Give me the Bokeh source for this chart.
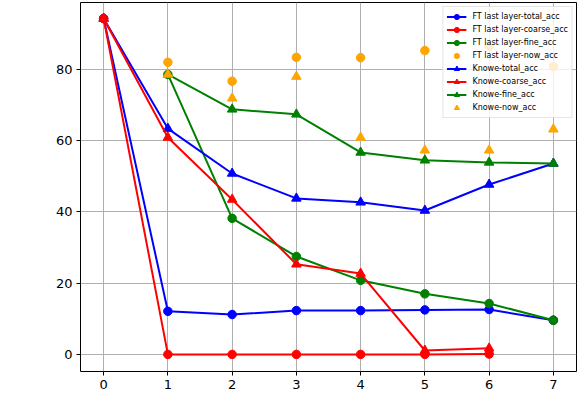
from bokeh.plotting import figure
from bokeh.models import Range1d, FixedTicker, Legend
from bokeh.embed import file_html
from bokeh.resources import INLINE

# ---- data ----
ft_total_x = [0, 1, 2, 3, 4, 5, 6, 7]
ft_total = [94.3, 12.1, 11.2, 12.3, 12.3, 12.5, 12.6, 9.6]
ft_coarse_x = [0, 1, 2, 3, 4, 5, 6]
ft_coarse = [94.3, 0.0, 0.0, 0.0, 0.0, 0.0, 0.1]
ft_fine_x = [1, 2, 3, 4, 5, 6, 7]
ft_fine = [78.6, 38.2, 27.5, 20.8, 17.0, 14.3, 9.6]
ft_now_x = [1, 2, 3, 4, 5, 6, 7]
ft_now = [82.0, 76.7, 83.4, 83.3, 85.3, 86.5, 80.8]

kn_total_x = [0, 1, 2, 3, 4, 5, 6, 7]
kn_total = [94.3, 63.4, 50.8, 43.8, 42.7, 40.4, 47.7, 53.6]
kn_coarse_x = [0, 1, 2, 3, 4, 5, 6]
kn_coarse = [94.3, 60.9, 43.5, 25.3, 22.7, 1.1, 1.7]
kn_fine_x = [1, 2, 3, 4, 5, 6, 7]
kn_fine = [78.6, 68.8, 67.4, 56.7, 54.5, 53.9, 53.6]
kn_now_x = [1, 2, 3, 4, 5, 6, 7]
kn_now = [78.6, 71.9, 78.0, 60.9, 57.3, 57.3, 63.2]

x_ticks = [0, 1, 2, 3, 4, 5, 6, 7]
y_ticks = [0, 20, 40, 60, 80]

BLUE, RED, GREEN, ORANGE = "#0000FF", "#FF0000", "#008000", "#FFA500"

p = figure(width=579, height=393, output_backend="svg", toolbar_location=None,
           x_range=Range1d(-0.36, 7.36), y_range=Range1d(-4.8, 98.8),
           min_border_left=80, min_border_right=3, min_border_top=2, min_border_bottom=22)

p.outline_line_color = "black"
p.outline_line_width = 1
p.background_fill_color = "white"
p.border_fill_color = "white"

for ax in (p.xaxis[0], p.yaxis[0]):
    ax.axis_line_color = None
    ax.major_tick_line_color = "black"
    ax.major_tick_out = 4
    ax.major_tick_in = 0
    ax.minor_tick_line_color = None
    ax.major_label_text_font = "DejaVu Sans"
    ax.major_label_text_font_size = "13px"
    ax.major_label_text_color = "black"
    ax.major_label_standoff = 4
p.xaxis[0].ticker = FixedTicker(ticks=x_ticks)
p.yaxis[0].ticker = FixedTicker(ticks=y_ticks)

p.grid.grid_line_color = "#b0b0b0"
p.grid.grid_line_width = 1

MS = 8.5
TS = 9.5
items = []

def line_series(xs, ys, color, marker, label):
    r1 = p.line(xs, ys, line_color=color, line_width=2)
    r2 = p.scatter(xs, ys, marker=marker, size=MS if marker == "circle" else TS,
                   fill_color=color, line_color=color)
    items.append((label, [r1, r2]))

def point_series(xs, ys, color, marker, label):
    r = p.scatter(xs, ys, marker=marker, size=MS if marker == "circle" else TS,
                  fill_color=color, line_color=color)
    items.append((label, [r]))

line_series(ft_total_x, ft_total, BLUE, "circle", "FT last layer-total_acc")
line_series(ft_coarse_x, ft_coarse, RED, "circle", "FT last layer-coarse_acc")
line_series(ft_fine_x, ft_fine, GREEN, "circle", "FT last layer-fine_acc")
point_series(ft_now_x, ft_now, ORANGE, "circle", "FT last layer-now_acc")
line_series(kn_total_x, kn_total, BLUE, "triangle", "Knowe-total_acc")
line_series(kn_coarse_x, kn_coarse, RED, "triangle", "Knowe-coarse_acc")
line_series(kn_fine_x, kn_fine, GREEN, "triangle", "Knowe-fine_acc")
point_series(kn_now_x, kn_now, ORANGE, "triangle", "Knowe-now_acc")

legend = Legend(items=items, location="top_right")
legend.label_text_font = "DejaVu Sans"
legend.label_text_font_size = "8px"
legend.label_text_color = "black"
legend.label_height = 13
legend.glyph_height = 13
legend.glyph_width = 20
legend.spacing = 0
legend.padding = 3
legend.margin = 4
legend.label_standoff = 6
legend.border_line_color = "#cccccc"
legend.border_line_width = 1
legend.background_fill_color = "white"
legend.background_fill_alpha = 0.8
p.add_layout(legend)

open("out.html", "w").write(file_html(p, INLINE))
